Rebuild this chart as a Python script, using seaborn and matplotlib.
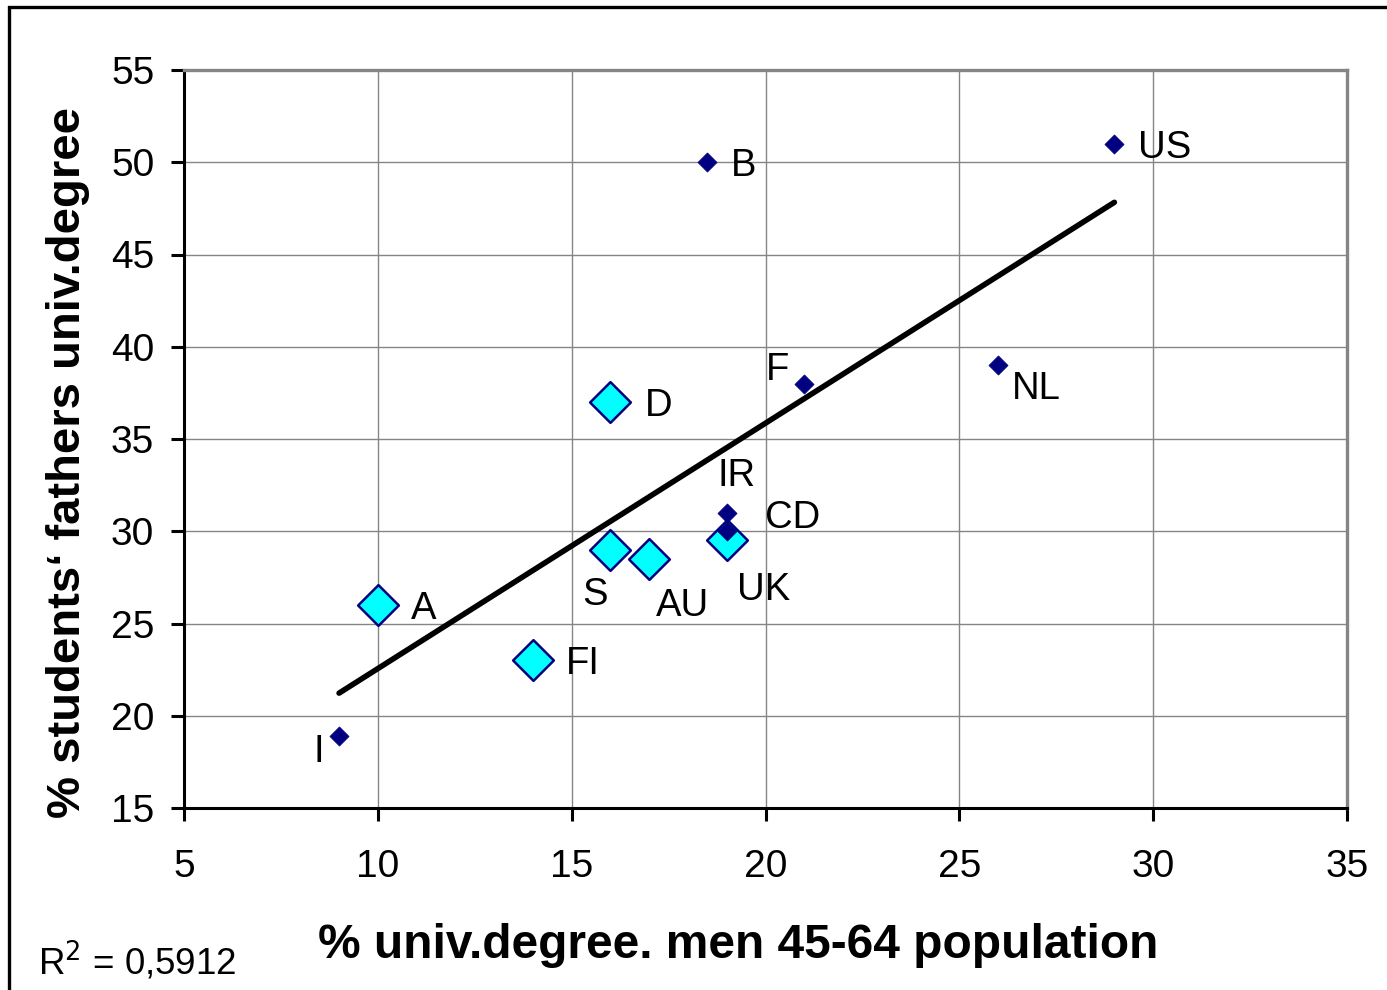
import numpy as np
import pandas as pd
import matplotlib
matplotlib.use("Agg")
import matplotlib.pyplot as plt
import seaborn as sns
from matplotlib.patches import Rectangle

# ---- data ----
countries = ["I", "A", "FI", "S", "AU", "D", "B", "UK", "CD", "IR", "F", "NL", "US"]
pct_men_degree = [9, 10, 14, 16, 17, 16, 18.5, 19, 19, 19, 21, 26, 29]
pct_fathers_degree = [18.9, 26, 23, 29, 28.5, 37, 50, 29.5, 30, 31, 38, 39, 51]
group = ["small", "big", "big", "big", "big", "big", "small", "big", "small", "small", "small", "small", "small"]
r2_text = "R$^2$ = 0,5912"
x_label = "% univ.degree. men 45-64 population"
y_label = "% students\u2018 fathers univ.degree"
x_ticks = [5, 10, 15, 20, 25, 30, 35]
y_ticks = [15, 20, 25, 30, 35, 40, 45, 50, 55]

df = pd.DataFrame({"country": countries, "x": pct_men_degree,
                   "y": pct_fathers_degree, "group": group})

# label offsets in pixels (dx, dy up), ha
label_offsets = {
    "I": (-15, -12, "right"), "A": (33, 0, "left"), "FI": (33, 0, "left"),
    "S": (-15, -41, "center"), "AU": (7, -43, "left"), "D": (34, 0, "left"),
    "B": (24, 0, "left"), "UK": (10, -46, "left"), "CD": (38, 17, "left"),
    "IR": (10, 41, "center"), "F": (-15, 18, "right"), "NL": (14, -20, "left"),
    "US": (24, 0, "left"),
}

sns.set_theme(style="whitegrid")
plt.rcParams["font.family"] = ["Liberation Sans", "DejaVu Sans"]
plt.rcParams["text.color"] = "black"

W, H = 1387, 990
fig = plt.figure(figsize=(W / 100, H / 100), dpi=100)
ax = fig.add_axes([184 / W, 1 - 808 / H, (1347 - 184) / W, (808 - 70) / H])
ax.set_facecolor("white")

# regression line over all points
sns.regplot(data=df, x="x", y="y", scatter=False, ci=None, ax=ax,
            line_kws=dict(color="black", lw=4.0, zorder=3))

big = df[df.group == "big"]
small = df[df.group == "small"]
sns.scatterplot(data=big, x="x", y="y", marker="D", s=430, color="#00FFFF",
                edgecolor="#000080", linewidth=1.8, ax=ax, zorder=4)
sns.scatterplot(data=small, x="x", y="y", marker="D", s=95, color="#000080",
                edgecolor="#000080", linewidth=0.5, ax=ax, zorder=5)

for _, r in df.iterrows():
    dx, dy, ha = label_offsets[r.country]
    ax.annotate(r.country, (r.x, r.y), xytext=(dx * 0.72, dy * 0.72),
                textcoords="offset points", ha=ha, va="center_baseline",
                fontsize=27.5, color="black", zorder=6)

ax.set_xlim(5, 35)
ax.set_ylim(15, 55)
ax.set_xticks(x_ticks)
ax.set_yticks(y_ticks)
ax.set_xlabel("")
ax.set_ylabel("")
ax.grid(True, color="#858585", lw=1.0)
ax.tick_params(axis="both", which="both", labelsize=28, colors="black",
               direction="out", length=9.4, width=2.2,
               bottom=True, left=True)
ax.tick_params(axis="x", pad=20)
ax.tick_params(axis="y", pad=12)
for side in ["left", "bottom"]:
    ax.spines[side].set_color("black")
    ax.spines[side].set_linewidth(2.2)
for side in ["top", "right"]:
    ax.spines[side].set_color("#858585")
    ax.spines[side].set_linewidth(2.4)

fig.text(738 / W, 1 - 945 / H, x_label, ha="center", va="center",
         fontsize=34.5, fontweight="bold", color="black")
fig.text(68 / W, 1 - 463 / H, y_label, ha="center", va="center",
         rotation=90, fontsize=34, fontweight="bold", color="black")
fig.text(38 / W, 1 - 962 / H, r2_text, ha="left", va="center",
         fontsize=26.5, color="black")

fig.patches.append(Rectangle((9 / W, -0.1), 2, 1.1 - 7 / H, fill=False,
                             edgecolor="black", lw=2.4,
                             transform=fig.transFigure, figure=fig))

fig.savefig("out.png", dpi=100, facecolor="white")
